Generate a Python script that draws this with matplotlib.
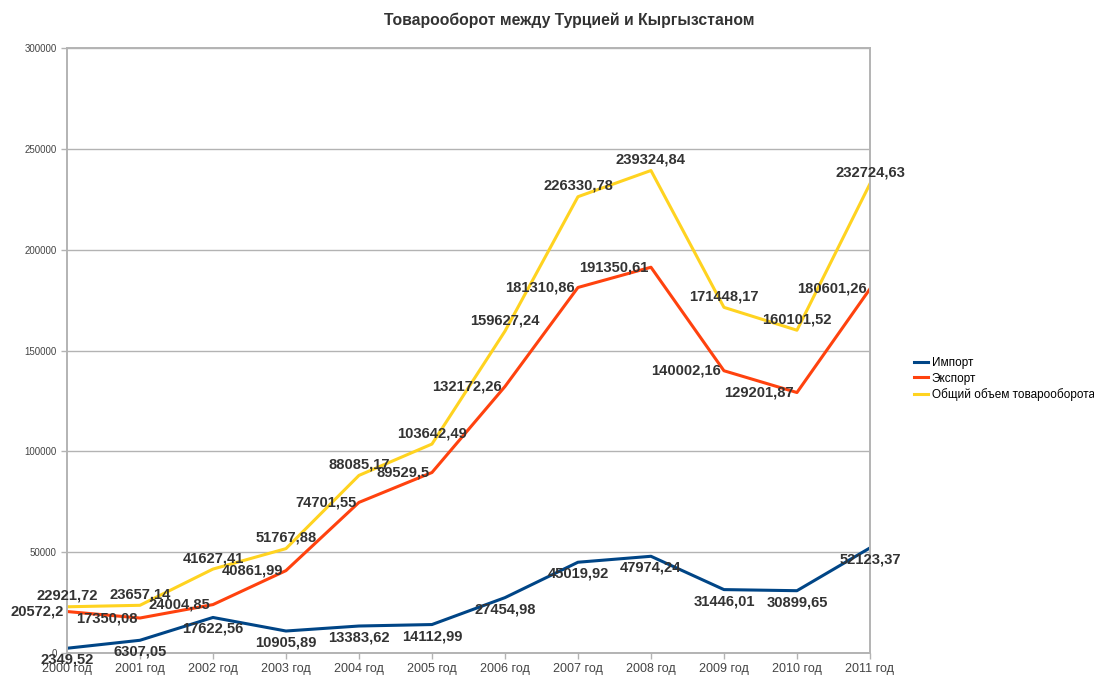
import matplotlib
matplotlib.use("Agg")
import matplotlib.pyplot as plt

plt.rcParams['font.family'] = ['Liberation Sans', 'DejaVu Sans']

# данные
years = ['2000 год', '2001 год', '2002 год', '2003 год', '2004 год', '2005 год',
         '2006 год', '2007 год', '2008 год', '2009 год', '2010 год', '2011 год']
import_vals = [2349.52, 6307.05, 17622.56, 10905.89, 13383.62, 14112.99,
               27454.98, 45019.92, 47974.24, 31446.01, 30899.65, 52123.37]
export_vals = [20572.2, 17350.08, 24004.85, 40861.99, 74701.55, 89529.5,
               132172.26, 181310.86, 191350.61, 140002.16, 129201.87, 180601.26]
total_vals = [22921.72, 23657.14, 41627.41, 51767.88, 88085.17, 103642.49,
              159627.24, 226330.78, 239324.84, 171448.17, 160101.52, 232724.63]

def fmt(v):
    s = ('%.2f' % v).rstrip('0').rstrip('.')
    return s.replace('.', ',')

fig = plt.figure(figsize=(10.94, 6.75), dpi=100)
ax = fig.add_axes([0.0612, 0.0326, 0.734, 0.896])

x = list(range(len(years)))
ax.plot(x, import_vals, color='#004586', lw=2.2, label='Импорт')
ax.plot(x, export_vals, color='#ff420e', lw=2.2, label='Экспорт')
ax.plot(x, total_vals, color='#ffd320', lw=2.2, label='Общий объем товарооборота')

lbl = dict(fontsize=10.6, fontweight='bold', color='#333333', textcoords='offset points')
for i in x:
    ax.annotate(fmt(import_vals[i]), (i, import_vals[i]), xytext=(0, -8.3),
                ha='center', va='center', **lbl)
    ax.annotate(fmt(export_vals[i]), (i, export_vals[i]), xytext=(-2, 0),
                ha='right', va='center', **lbl)
    ax.annotate(fmt(total_vals[i]), (i, total_vals[i]), xytext=(0, 7.8),
                ha='center', va='center', **lbl)

ax.set_xlim(0, len(years) - 1)
ax.set_ylim(0, 300000)
ax.set_yticks(range(0, 300001, 50000))
ax.set_xticks(x)
ax.set_xticklabels(years)
ax.tick_params(axis='y', labelsize=7, colors='#b3b3b3', labelcolor='#444444', length=4, width=1)
ax.tick_params(axis='x', labelsize=9, colors='#b3b3b3', labelcolor='#444444', length=4, width=1, pad=3)
ax.grid(axis='y', color='#b3b3b3', lw=1)
ax.set_axisbelow(True)
for sp in ax.spines.values():
    sp.set_color('#b3b3b3')
    sp.set_linewidth(1.4)

fig.text(0.52, 0.97, 'Товарооборот между Турцией и Кыргызстаном',
         ha='center', va='center', fontsize=11.3, fontweight='bold', color='#333333')

fig.legend(loc='center left', bbox_to_anchor=(0.83, 0.4385), frameon=False,
           fontsize=8.5, handlelength=1.2, handletextpad=0.3, labelspacing=0.3,
           borderpad=0)

fig.savefig('out.png', dpi=100)
